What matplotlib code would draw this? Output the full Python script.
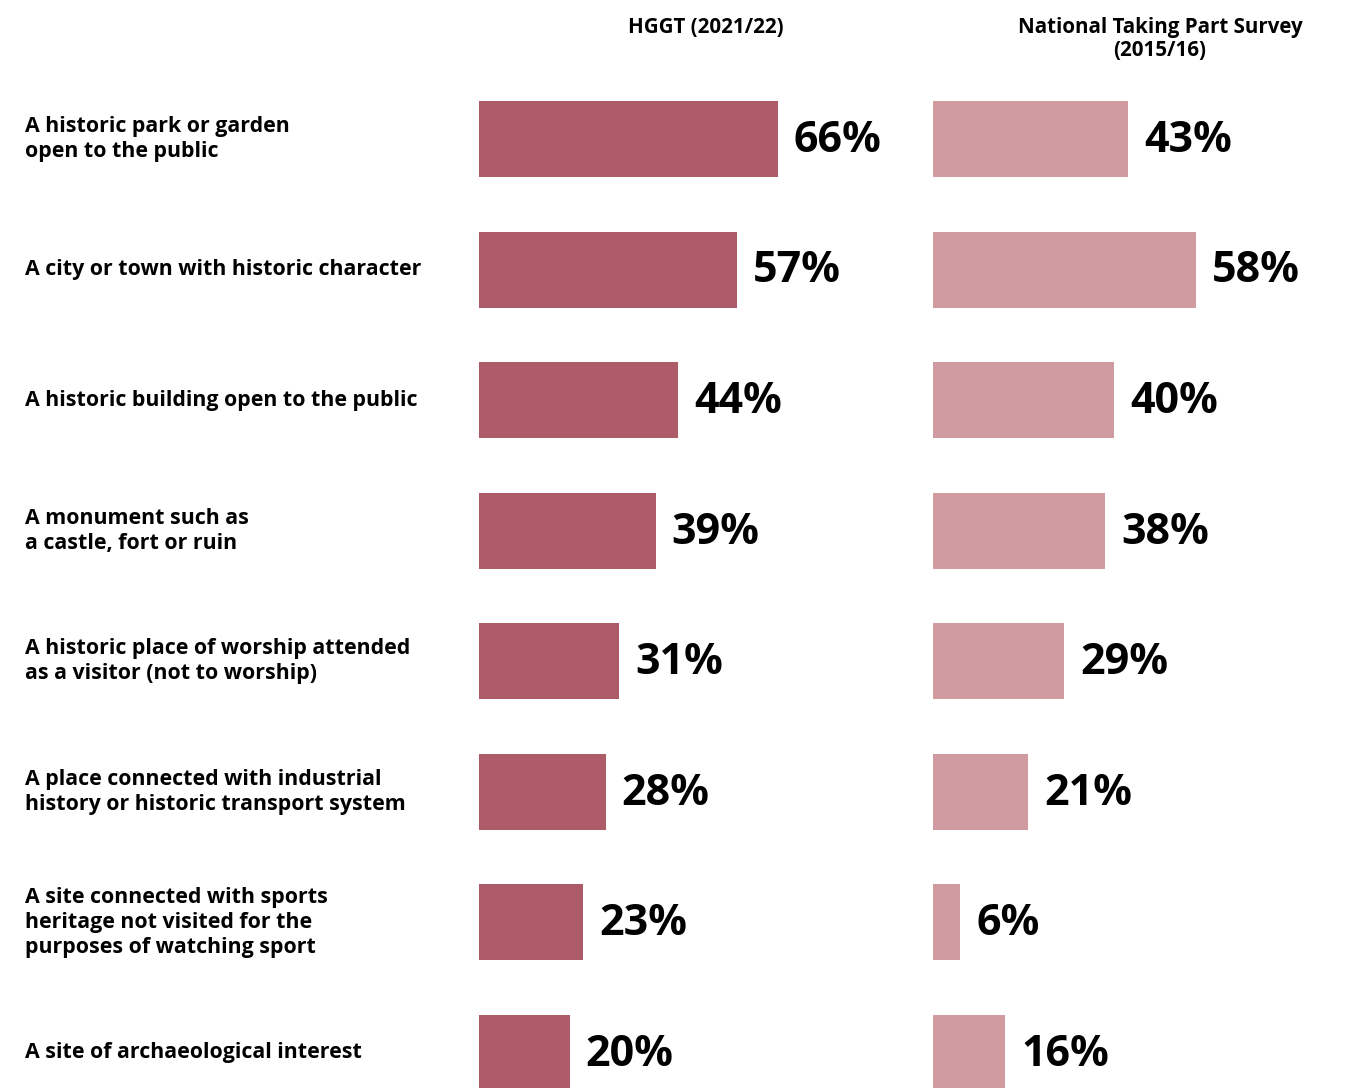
import matplotlib.pyplot as plt
import numpy as np

categories = [
    "A historic park or garden\nopen to the public",
    "A city or town with historic character",
    "A historic building open to the public",
    "A monument such as\na castle, fort or ruin",
    "A historic place of worship attended\nas a visitor (not to worship)",
    "A place connected with industrial\nhistory or historic transport system",
    "A site connected with sports\nheritage not visited for the\npurposes of watching sport",
    "A site of archaeological interest",
]
hggt = [66, 57, 44, 39, 31, 28, 23, 20]
taking_part = [43, 58, 40, 38, 29, 21, 6, 16]
titles = ["HGGT (2021/22)", "National Taking Part Survey\n(2015/16)"]

DARK = "#AE5B69"
LIGHT = "#D09AA1"

plt.rcParams['font.family'] = ['Open Sans', 'DejaVu Sans']

W, H = 1351, 1088
fig = plt.figure(figsize=(W / 100, H / 100), dpi=100)

px_per_unit = 4.53
row_gap = 130.57
first_row = 139
y = np.arange(len(categories))
ylim = ((H - first_row) / row_gap, -first_row / row_gap)


def panel(x0, width, values, color, title, title_x):
    ax = fig.add_axes([x0 / W, 0, width / W, 1])
    ax.barh(y, values, height=76 / row_gap, color=color)
    ax.set_xlim(0, width / px_per_unit)
    ax.set_ylim(*ylim)
    ax.axis('off')
    for yi, v in zip(y, values):
        ax.annotate(f"{v}%", (v, yi), xytext=(11.5, -1), textcoords='offset points',
                    ha='left', va='center', fontsize=31, fontweight='bold')
    fig.text(title_x / W, 1 - 17 / H, title, ha='center', va='top',
             fontsize=14.8, fontweight='bold', linespacing=1.15)
    return ax


panel(479, 400, hggt, DARK, titles[0], 706)
panel(933, 418, taking_part, LIGHT, titles[1], 1160)

for yi, label in zip(y, categories):
    fy = 1 - (first_row + yi * row_gap) / H
    fig.text(25 / W, fy, label, ha='left', va='center', fontsize=15.4,
             fontweight='bold', linespacing=1.26)

fig.savefig("out.png", dpi=100)
